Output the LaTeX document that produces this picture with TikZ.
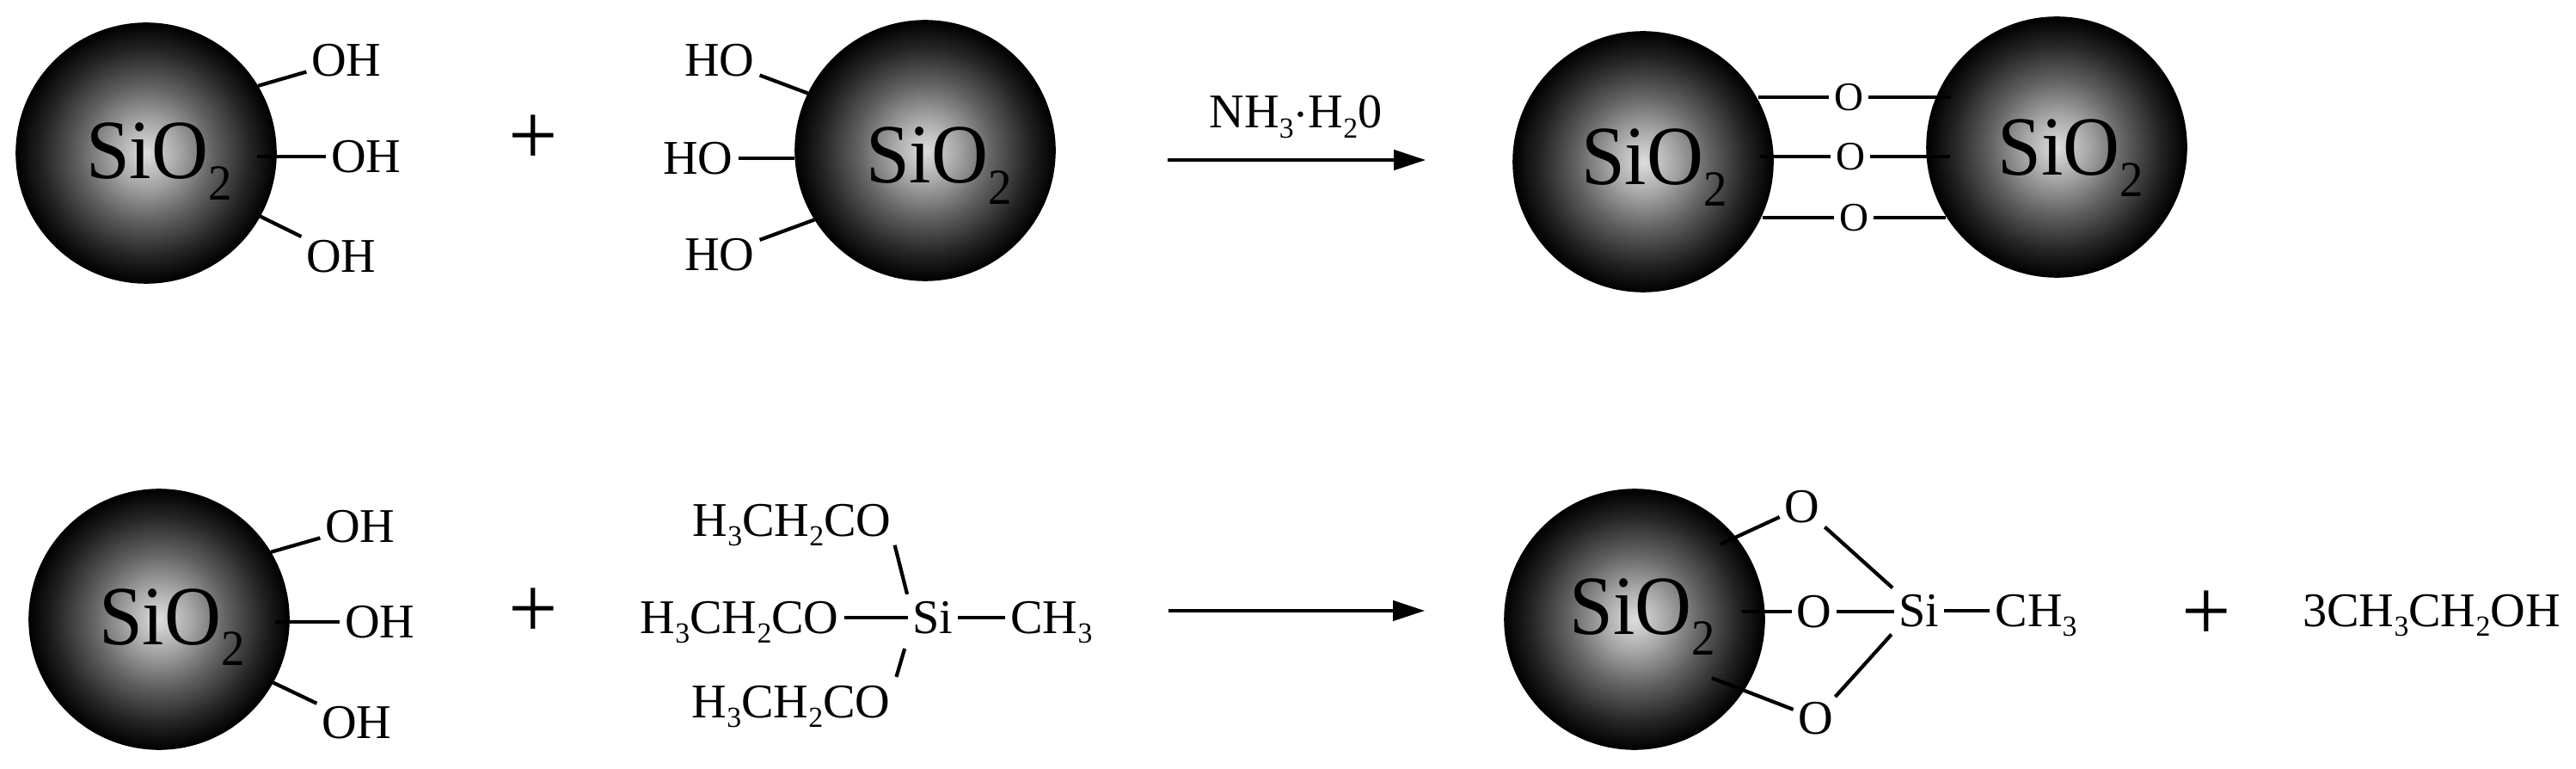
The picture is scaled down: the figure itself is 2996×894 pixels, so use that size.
\documentclass[tikz,border=0pt]{standalone}
\usepackage{fontspec}
\setmainfont{Liberation Serif}
\usetikzlibrary{arrows.meta,positioning}
\pgfdeclareradialshading{silica}{\pgfpointorigin}{color(0bp)=(black!13); color(6bp)=(black!34); color(13bp)=(black!62); color(20bp)=(black!86); color(25bp)=(black); color(50bp)=(black)}
\newcommand{\chemsub}[1]{\raisebox{-.2em}{\scalebox{.6}{#1}}}
\newcommand{\silicalabel}{\scalebox{1}[1.07]{SiO\raisebox{-.25em}{\scalebox{.6}{2}}}}

\begin{document}
\begin{tikzpicture}[
    x=0.01cm, y=-0.01cm,
    sphere/.style={circle, draw=black, shade, shading=silica, minimum size=3.02cm, inner sep=0pt},
    oxide/.style={anchor=base, inner sep=0pt, font=\fontsize{26}{28}\selectfont},
    group/.style={inner sep=1.5pt, font=\fontsize{16}{18}\selectfont},
    chain/.style={group, anchor=base},
    bridge/.style={inner sep=1.5pt, font=\fontsize{13.4}{15}\selectfont},
    sign/.style={inner sep=0pt, font=\fontsize{29}{31}\selectfont},
    bond/.style={line width=1.2pt, black},
    arrow/.style={-{Stealth[length=0.37cm,width=0.23cm,inset=0pt]}, line width=1.2pt}
]
    \useasboundingbox (0,0) rectangle (2996,894);

    \node[sphere] (ball1) at (170,178) {};
    \node[sphere] (ball2) at (1076,175) {};
    \node[sphere] (ball3) at (1911,188) {};
    \node[sphere] (ball4) at (2392,171) {};
    \node[sphere] (ball5) at (185,720) {};
    \node[sphere] (ball6) at (1901,720) {};

    \node[oxide] (oxide1) at (185,208) {\silicalabel};
    \node[oxide] (oxide2) at (1092,213) {\silicalabel};
    \node[oxide] (oxide3) at (1924,215) {\silicalabel};
    \node[oxide] (oxide4) at (2408,204) {\silicalabel};
    \node[oxide] (oxide5) at (200,749) {\silicalabel};
    \node[oxide] (oxide6) at (1910,737) {\silicalabel};

    \node[group] (oh1) at (403,70) {OH};
    \node[group] (oh2) at (426,182) {OH};
    \node[group] (oh3) at (397,298) {OH};
    \node[group] (ho1) at (837,70) {HO};
    \node[group] (ho2) at (812,184) {HO};
    \node[group] (ho3) at (837,296) {HO};
    \node[sign] (plus1) at (620,163) {+};

    \draw[bond] (ball1.31) -- (oh1);
    \draw[bond, shorten <=-0.23cm] (ball1.east |- oh2) -- (oh2);
    \draw[bond] (ball1.-29) -- (oh3);
    \draw[bond] (ball2.154) -- (ho1);
    \draw[bond] (ball2.west |- ho2) -- (ho2);
    \draw[bond] (ball2.212) -- (ho3);

    \coordinate (start1) at (1358,186);
    \coordinate[right=3cm of start1] (end1);
    \draw[arrow] (start1) -- (end1);
    \node[chain] (ammonia) at (1507,149) {NH\chemsub{3}$\cdot$H\chemsub{2}0};

    \node[bridge] (link1) at (2150,113) {O};
    \node[bridge] (link2) at (2152,182) {O};
    \node[bridge] (link3) at (2156,253) {O};
    \draw[bond, shorten <=-0.18cm] (ball3.east |- link1) -- (link1);
    \draw[bond, shorten <=-0.16cm] (ball3.east |- link2) -- (link2);
    \draw[bond, shorten <=-0.13cm] (ball3.east |- link3) -- (link3);
    \draw[bond, shorten <=-0.29cm] (ball4.west |- link1) -- (link1);
    \draw[bond, shorten <=-0.28cm] (ball4.west |- link2) -- (link2);
    \draw[bond, shorten <=-0.23cm] (ball4.west |- link3) -- (link3);

    \node[group] (oh4) at (419,612) {OH};
    \node[group] (oh5) at (442,723) {OH};
    \node[group] (oh6) at (415,840) {OH};
    \node[sign] (plus2) at (620,713) {+};
    \draw[bond] (ball5.31) -- (oh4);
    \draw[bond, shorten <=-0.17cm] (ball5.east |- oh5) -- (oh5);
    \draw[bond] (ball5.-29) -- (oh6);

    \node[chain] (si1) at (1085,736) {Si};
    \node[chain, base right=0.55cm of si1] (me1) {CH\chemsub{3}};
    \node[chain, base left=0.74cm of si1] (eth2) {H\chemsub{3}CH\chemsub{2}CO};
    \node[chain] (eth1) at (921,623) {H\chemsub{3}CH\chemsub{2}CO};
    \node[chain] (eth3) at (920,834) {H\chemsub{3}CH\chemsub{2}CO};
    \draw[bond, shorten <=-0.07cm, shorten >=0.02cm] (eth1.south east) -- (si1.north west);
    \draw[bond] (eth2.east |- si1.center) -- (si1.west |- si1.center);
    \draw[bond] (si1.east |- si1.center) -- (me1.west |- si1.center);
    \draw[bond, shorten <=0.04cm, shorten >=0.12cm] (eth3.north east) -- (si1.south west);

    \coordinate (start2) at (1359,710);
    \coordinate[right=2.98cm of start2] (end2);
    \draw[arrow] (start2) -- (end2);

    \node[group] (link4) at (2096,589) {O};
    \node[group] (link5) at (2110,711) {O};
    \node[group] (link6) at (2112,835) {O};
    \node[chain] (si2) at (2232,728) {Si};
    \node[chain, base right=0.53cm of si2] (me2) {CH\chemsub{3}};
    \node[sign] (plus3) at (2566,716) {+};
    \node[chain] (ethanol) at (2828,728) {3CH\chemsub{3}CH\chemsub{2}OH};
    \draw[bond, shorten <=-0.2cm] (ball6.39) -- (link4);
    \draw[bond, shorten <=-0.27cm] (ball6.east |- link5) -- (link5);
    \draw[bond, shorten <=-0.4cm] (ball6.-33) -- (link6);
    \draw[bond, shorten >=0.02cm] (link4) -- (si2.north west);
    \draw[bond] (link5.east) -- (si2.west |- link5.east);
    \draw[bond] (si2.east |- si2.center) -- (me2.west |- si2.center);
    \draw[bond, shorten >=0.04cm] (link6) -- (si2.south west);
\end{tikzpicture}
\end{document}
